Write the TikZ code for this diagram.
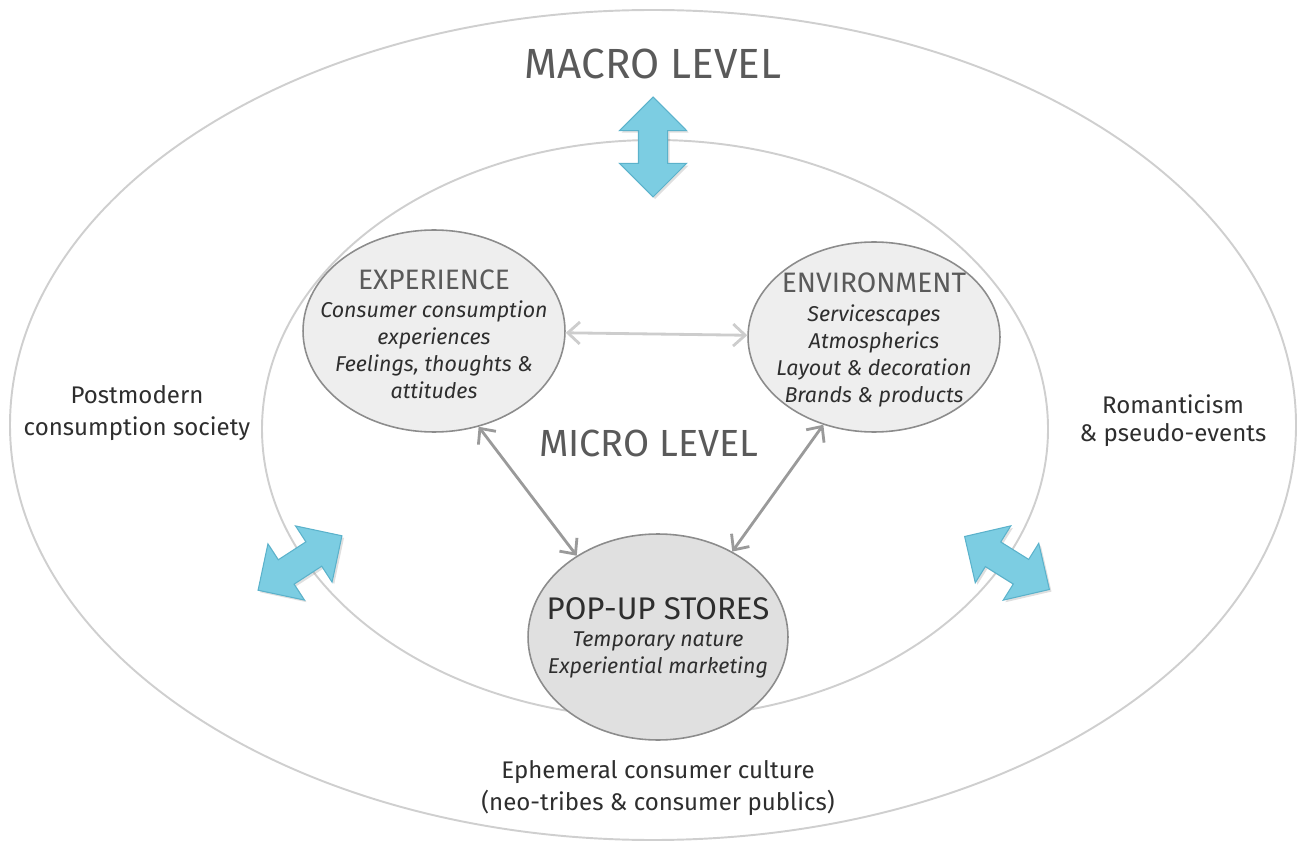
\documentclass[tikz,border=0pt]{standalone}
\usepackage{fontspec}
\setmainfont{Fira Sans}
\usepackage{xcolor}
\usepackage{tikz}
\usetikzlibrary{arrows.meta,shapes.geometric,shapes.arrows,shadows}

\definecolor{ringgray}{HTML}{CFCFCF}
\definecolor{edgegray}{HTML}{8C8C8C}
\definecolor{topicfill}{HTML}{EEEEEE}
\definecolor{storefill}{HTML}{E0E0E0}
\definecolor{headgray}{HTML}{5A5A5A}
\definecolor{textdark}{HTML}{2E2E2E}
\definecolor{linkgray}{HTML}{9A9A9A}
\definecolor{linklight}{HTML}{CDCDCD}
\definecolor{arrowblue}{HTML}{7CCDE2}
\definecolor{arrowedge}{HTML}{5BB2CB}

\newcommand{\topichead}[1]{{\fontsize{16}{19}\selectfont\upshape\color{headgray}#1}}

\begin{document}
\begin{tikzpicture}[
  x=0.02cm, y=-0.02cm,
  every node/.style={font=\fontsize{13.7}{18.7}\selectfont, text=textdark},
  ring/.style={draw=ringgray, line width=1.1pt},
  topic/.style={ellipse, draw=edgegray, line width=0.9pt, fill=topicfill, inner sep=0pt},
  topictext/.style={align=center, inner sep=0pt, font=\fontsize{12.2}{15.3}\selectfont\itshape},
  level/.style={font=\fontsize{24}{28}\selectfont, text=headgray},
  link/.style={{Straight Barb[length=2.4mm,width=4.4mm]}-{Straight Barb[length=2.4mm,width=4.4mm]},
    line width=1.6pt, draw=linkgray},
  block/.style={double arrow, fill=arrowblue, draw=arrowedge, line width=0.6pt, inner sep=0pt,
    text height=0.28cm, text depth=0.28cm, minimum height=2cm,
    double arrow head extend=0.38cm, double arrow tip angle=90,
    drop shadow={opacity=0.25, shadow xshift=1.2pt, shadow yshift=-1.2pt}}
]
  \useasboundingbox (0,0) rectangle (1304,847);

  % the two levels
  \draw[ring] (653,425) ellipse [x radius=643, y radius=415];
  \draw[ring] (655,429) ellipse [x radius=393, y radius=289];

  \node[level] (macro) at (653,64) {MACRO LEVEL};
  \node[level, font=\fontsize{21.5}{26}\selectfont] (micro) at (649,443) {MICRO LEVEL};

  % exchange between the levels
  \node[block, rotate=90] (up) at (653,147) {};
  \node[block, rotate=33] (leftx) at (300,563) {};
  \node[block, rotate=-32] (rightx) at (1007,563) {};

  % context
  \node[align=center] (postmodern) at (137,413) {Postmodern\\consumption society};
  \node[align=center, font=\fontsize{13.7}{16}\selectfont] (romantic) at (1173,421)
    {Romanticism\\\& pseudo-events};
  \node[align=center] (ephemeral) at (658,788)
    {Ephemeral consumer culture\\(neo-tribes \& consumer publics)};

  % micro level
  \node[topic, minimum width=5.24cm, minimum height=4.04cm] (exp) at (434,331) {};
  \node[topictext] (exptext) at (434,334)
    {\topichead{EXPERIENCE}\\[1pt]Consumer consumption\\experiences\\Feelings, thoughts \&\\attitudes};
  \node[topic, minimum width=5.04cm, minimum height=3.8cm] (env) at (874,337) {};
  \node[topictext] (envtext) at (874,340)
    {\topichead{ENVIRONMENT}\\[1pt]Servicescapes\\Atmospherics\\Layout \& decoration\\Brands \& products};
  \node[topic, fill=storefill, minimum width=5.2cm, minimum height=4.12cm] (store) at (658,637) {};
  \node[topictext] (storetext) at (658,638)
    {{\fontsize{17.8}{21}\selectfont\upshape POP-UP STORES}\\Temporary nature\\Experiential marketing};

  \draw[link, draw=linklight] (exp) -- (env);
  \draw[link] (exp.-65) -- (store.135);
  \draw[link] (env.240) -- (store.49);
\end{tikzpicture}
\end{document}
